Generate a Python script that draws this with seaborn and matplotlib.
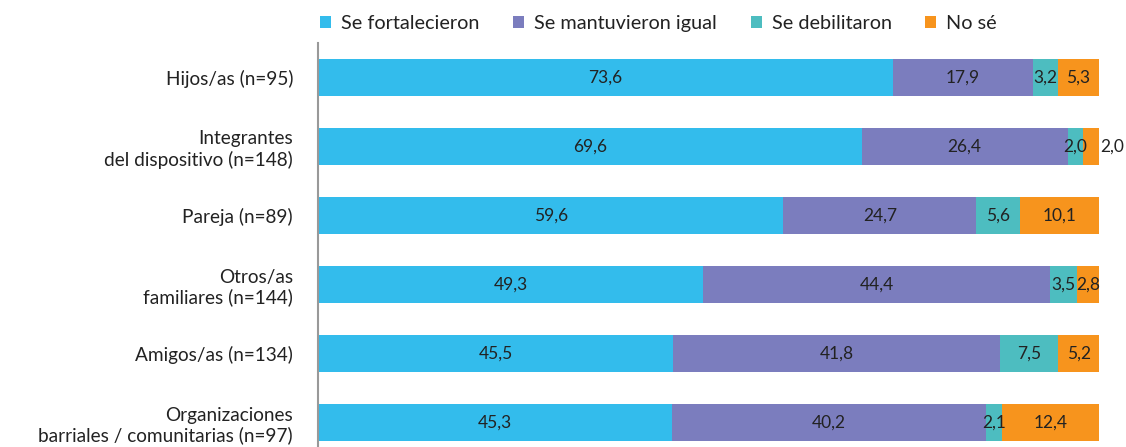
import numpy as np
import pandas as pd
import matplotlib
matplotlib.use("Agg")
import matplotlib.pyplot as plt
import seaborn as sns
from matplotlib.patches import Patch

# ─── DATA ────────────────────────────────────────────
categories = [
    "Hijos/as (n=95)",
    "Integrantes\ndel dispositivo (n=148)",
    "Pareja (n=89)",
    "Otros/as\nfamiliares (n=144)",
    "Amigos/as (n=134)",
    "Organizaciones\nbarriales / comunitarias (n=97)",
]
fortalecieron = [73.6, 69.6, 59.6, 49.3, 45.5, 45.3]
mantuvieron = [17.9, 26.4, 24.7, 44.4, 41.8, 40.2]
debilitaron = [3.2, 2.0, 5.6, 3.5, 7.5, 2.1]
no_se = [5.3, 2.0, 10.1, 2.8, 5.2, 12.4]

series_names = ["Se fortalecieron", "Se mantuvieron igual", "Se debilitaron", "No sé"]
colors = ["#33BCEC", "#7B7DBE", "#4DBDC0", "#F7941D"]

df = pd.DataFrame({
    "cat": categories,
    series_names[0]: fortalecieron,
    series_names[1]: mantuvieron,
    series_names[2]: debilitaron,
    series_names[3]: no_se,
})

sns.set_style("white")
plt.rcParams["font.family"] = ["Lato", "DejaVu Sans"]

fig = plt.figure(figsize=(11.26, 4.47), dpi=100)
ax = fig.add_axes([318 / 1126, -10 / 447, 781 / 1126, 414 / 447])

# stacked bars: draw cumulative totals from the longest down
cum = df[series_names].cumsum(axis=1)
for name, col in reversed(list(zip(series_names, colors))):
    sns.barplot(x=cum[name], y=df["cat"], orient="h", color=col,
                width=0.54, ax=ax, saturation=1, edgecolor="none")

# value labels
for i in range(len(df)):
    start = 0
    for j, name in enumerate(series_names):
        v = df[name].iloc[i]
        txt = f"{v:.1f}".replace(".", ",")
        if j == len(series_names) - 1 and v < 2.5:
            ax.text(start + v + 0.1, i, txt, ha="left", va="center",
                    fontsize=12.5, color="#222222")
        else:
            ax.text(start + v / 2, i, txt, ha="center", va="center",
                    fontsize=12.5, color="#222222")
        start += v

ax.set_xlim(0, 100)
ax.set_ylim(5.5, -0.5)
ax.set_xlabel("")
ax.set_ylabel("")
ax.set_xticks([])
ax.tick_params(axis="y", length=0, pad=18, labelsize=13.7, labelcolor="#222222")
for lbl in ax.get_yticklabels():
    lbl.set_horizontalalignment("right")
    lbl.set_multialignment("right")
for s in ["top", "right", "bottom"]:
    ax.spines[s].set_visible(False)
ax.spines["left"].set_color("#999999")
ax.spines["left"].set_linewidth(1.5)

handles = [Patch(facecolor=c, edgecolor="none") for c in colors]
fig.legend(handles, series_names, loc="center", bbox_to_anchor=(0.585, 0.948),
           ncol=4, frameon=False, fontsize=14.3, handlelength=0.55,
           handleheight=0.55, handletextpad=0.5, columnspacing=1.7,
           labelcolor="#222222")

fig.savefig("out.png", dpi=100)
